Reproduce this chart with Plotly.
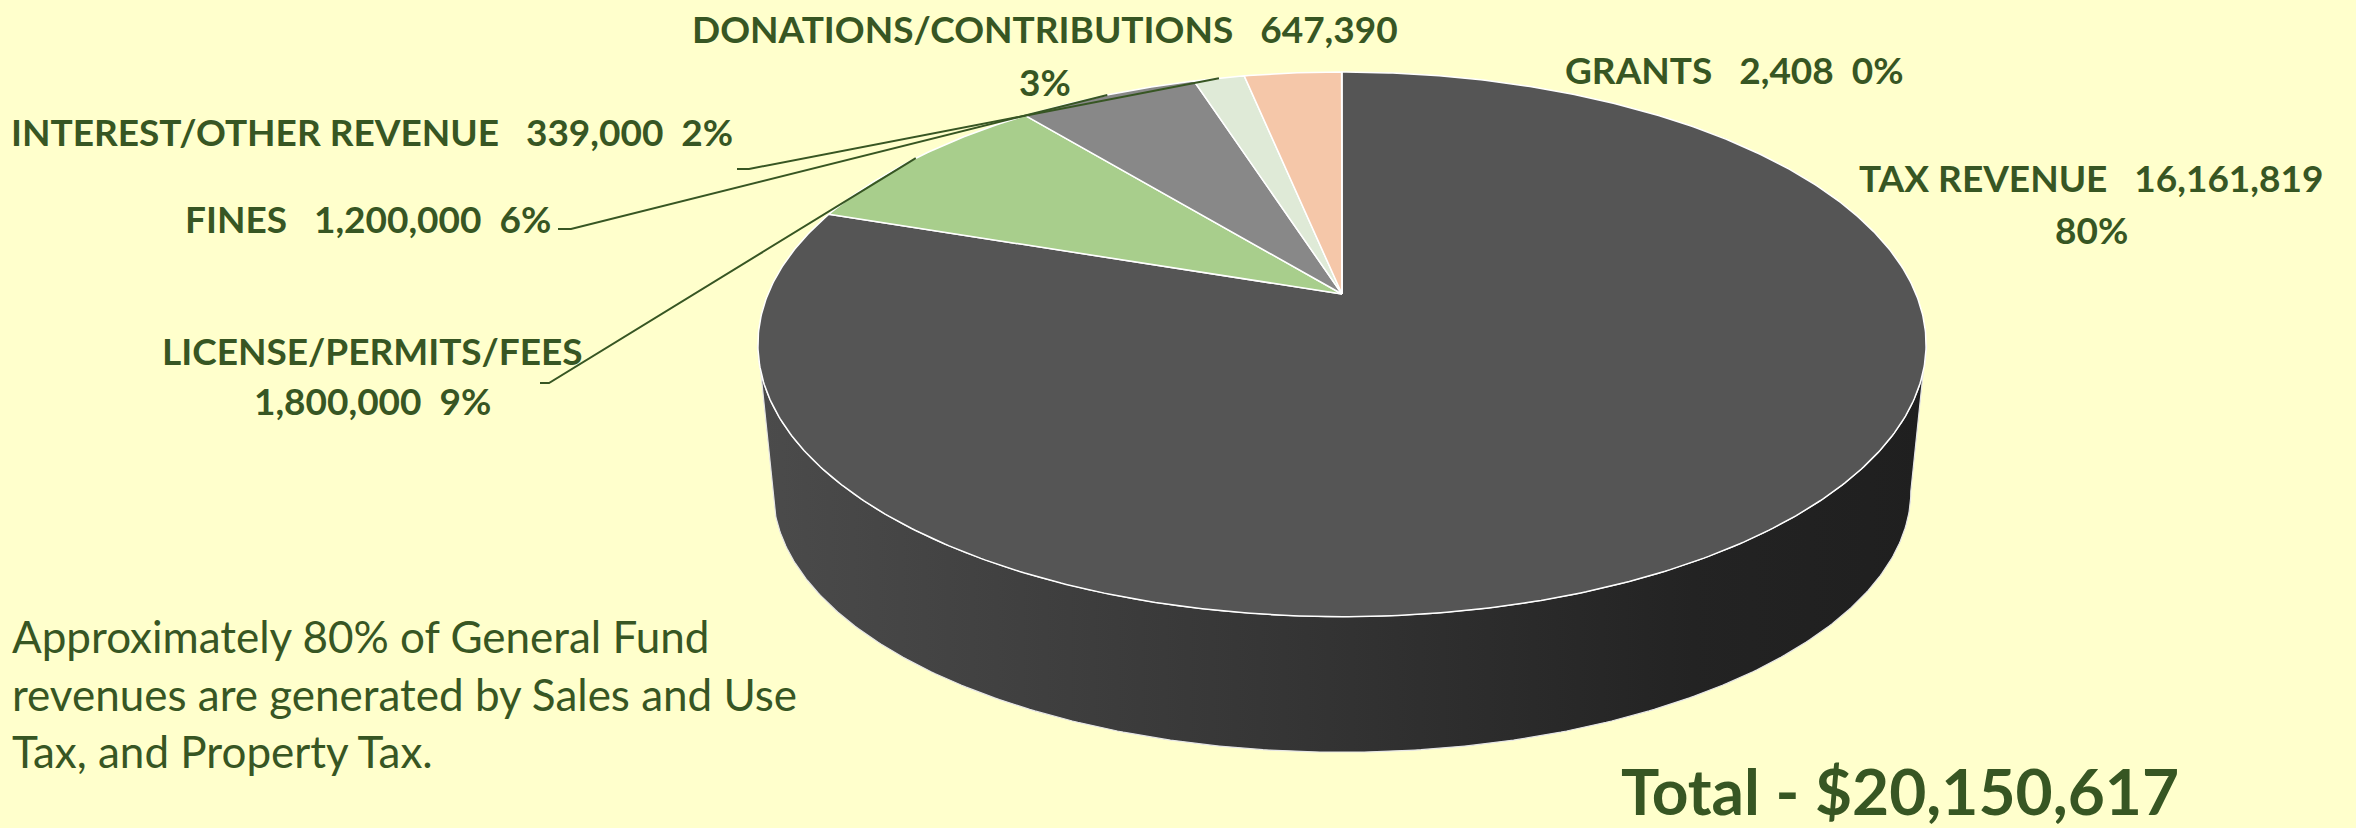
import numpy as np
import plotly.graph_objects as go

# ---------------- data ----------------
categories = ["TAX REVENUE", "LICENSE/PERMITS/FEES", "FINES",
              "INTEREST/OTHER REVENUE", "DONATIONS/CONTRIBUTIONS", "GRANTS"]
values = [16161819, 1800000, 1200000, 339000, 647390, 2408]
slice_colors = ["#555555", "#A8CE8C", "#888888", "#DFEAD7", "#F5C7A9", "#C9C9C9"]
total_text = "Total - $20,150,617"
note_lines = ["Approximately 80% of General Fund",
              "revenues are generated by Sales and Use",
              "Tax, and Property Tax."]

# ---------------- style / layout ----------------
W, H = 2356, 828
BG = "#FFFFCC"
TEXT = "#375623"
FONT = "Lato"

CX, K = 1342, 0.185                      # pie centre x, perspective factor
TOP = dict(A=574, B=263, YC=294)         # top face projection
BOT = dict(A=559, B=252, YC=443)         # bottom face projection

# label layout: x centre, y of line 1, y of line 2, how to split
label_pos = {
    "TAX REVENUE":             dict(x=2091, y1=177, y2=229, split="pct"),
    "LICENSE/PERMITS/FEES":    dict(x=372,  y1=350, y2=400, split="name"),
    "FINES":                   dict(x=368,  y1=218, y2=None, split=None),
    "INTEREST/OTHER REVENUE":  dict(x=372,  y1=131, y2=None, split=None),
    "DONATIONS/CONTRIBUTIONS": dict(x=1045, y1=28,  y2=81,  split="pct"),
    "GRANTS":                  dict(x=1734, y1=69,  y2=None, split=None),
}
# leader lines: start point and elbow x
leaders = {
    "LICENSE/PERMITS/FEES":   dict(x0=540, y0=383, x1=549),
    "FINES":                  dict(x0=558, y0=229, x1=571),
    "INTEREST/OTHER REVENUE": dict(x0=737, y0=169, x1=749),
}


def proj(theta_deg, g):
    t = np.radians(theta_deg)
    u, v = np.sin(t), np.cos(t)
    w = 1 + K * v
    return CX + g["A"] * u / w, g["YC"] - g["B"] * v / w


vals = np.array(values, float)
pct = vals / vals.sum()
cum = np.concatenate([[0.0], np.cumsum(pct)]) * 360.0

fig = go.Figure()

# ---- side wall ----
th_r = np.degrees(np.arccos(-K))
th_l = 360 - th_r
th = np.linspace(th_r, th_l, 300)
xt, yt = proj(th, TOP)
xb, yb = proj(th[::-1], BOT)
fig.add_trace(go.Scatter(
    x=np.concatenate([xt, xb, xt[:1]]), y=np.concatenate([yt, yb, yt[:1]]),
    mode="lines", fill="toself",
    line=dict(color="#E6E6E6", width=1.2),
    fillgradient=dict(type="horizontal",
                      colorscale=[[0, "#4B4B4B"], [0.45, "#353535"],
                                  [0.8, "#232323"], [1, "#1F1F1F"]]),
    hoverinfo="skip", showlegend=False))

# ---- top face slices ----
for i, cat in enumerate(categories):
    n = max(3, int((cum[i + 1] - cum[i]) * 2))
    t = np.linspace(cum[i], cum[i + 1], n)
    ex, ey = proj(t, TOP)
    fig.add_trace(go.Scatter(
        x=np.concatenate([[CX], ex, [CX]]),
        y=np.concatenate([[TOP["YC"]], ey, [TOP["YC"]]]),
        mode="lines", fill="toself", fillcolor=slice_colors[i],
        line=dict(color="#FFFFFF", width=1.5),
        hoverinfo="skip", showlegend=False, name=cat))

# ---- leader lines ----
for i, cat in enumerate(categories):
    if cat not in leaders:
        continue
    mid = (cum[i] + cum[i + 1]) / 2
    mx, my = proj(mid, TOP)
    L = leaders[cat]
    fig.add_trace(go.Scatter(
        x=[L["x0"], L["x1"], float(mx)], y=[L["y0"], L["y0"], float(my)],
        mode="lines", line=dict(color=TEXT, width=2),
        hoverinfo="skip", showlegend=False))

# ---- labels ----
NB = "\u00a0"
annotations = []
for i, cat in enumerate(categories):
    P = label_pos[cat]
    val_s = f"{values[i]:,}"
    pct_s = f"{pct[i] * 100:.0f}%"
    if P["split"] == "pct":
        lines = [cat + NB * 3 + val_s, pct_s]
    elif P["split"] == "name":
        lines = [cat, val_s + NB * 2 + pct_s]
    else:
        lines = [cat + NB * 3 + val_s + NB * 2 + pct_s]
    ys = [P["y1"], P["y2"]]
    for ln, yy in zip(lines, ys):
        annotations.append(dict(
            x=P["x"], y=yy, xref="x", yref="y", text=ln, showarrow=False,
            xanchor="center", yanchor="middle",
            font=dict(family=FONT, size=37, color=TEXT, weight="bold")))

for j, ln in enumerate(note_lines):
    annotations.append(dict(
        x=10, y=636 + j * 57.5, xref="x", yref="y", text=ln, showarrow=False,
        xanchor="left", yanchor="middle",
        font=dict(family=FONT, size=44, color=TEXT)))

annotations.append(dict(
    x=1900, y=790, xref="x", yref="y", text=total_text, showarrow=False,
    xanchor="center", yanchor="middle",
    font=dict(family=FONT, size=64, color=TEXT, weight="bold")))

fig.update_layout(
    width=W, height=H, autosize=False,
    margin=dict(l=0, r=0, t=0, b=0, pad=0),
    paper_bgcolor=BG, plot_bgcolor=BG,
    xaxis=dict(range=[0, W], visible=False, fixedrange=True),
    yaxis=dict(range=[H, 0], visible=False, fixedrange=True),
    annotations=annotations,
    showlegend=False,
)

fig.write_html("out.html", config={"displayModeBar": False})
